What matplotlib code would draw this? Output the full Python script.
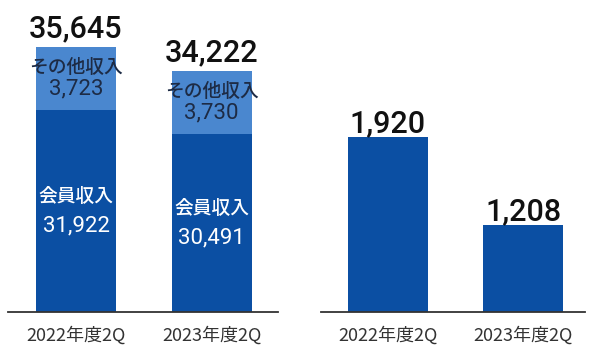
import matplotlib.pyplot as plt

plt.rcParams['font.family'] = ['Noto Sans CJK JP', 'DejaVu Sans']

periods = ["2022年度2Q", "2023年度2Q"]
member_income = [31922, 30491]
other_income = [3723, 3730]
revenue_total = [35645, 34222]
right_values = [1920, 1208]

dark = '#0b4fa3'
light = '#4a87cf'
navy = '#1d2b45'
num_font = ['Roboto', 'Liberation Sans', 'Noto Sans CJK JP']

fig = plt.figure(figsize=(5.89, 3.47), dpi=100)
ax1 = fig.add_axes([8 / 589, 35 / 347, 270 / 589, 312 / 347])
ax2 = fig.add_axes([321 / 589, 35 / 347, 264 / 589, 312 / 347])

x = [0, 1]
w = 0.59

# left: stacked revenue bars
ax1.bar(x, member_income, width=w, color=dark, zorder=2)
ax1.bar(x, other_income, width=w, bottom=member_income, color=light, zorder=2)
ax1.set_xlim(-0.502, 1.49)
ax1.set_ylim(19950, 38450)

for i in x:
    top = member_income[i] + other_income[i]
    ax1.annotate(f"{revenue_total[i]:,}", (i, top), xytext=(0, 13.5),
                 textcoords='offset points', ha='center', va='center',
                 fontsize=22, fontweight=500, family=num_font, color='#111111')
    mid_other = member_income[i] + other_income[i] / 2
    ax1.annotate("その他収入", (i, mid_other), xytext=(0, 8),
                 textcoords='offset points', ha='center', va='center',
                 fontsize=13.5, fontweight='medium', color=navy)
    ax1.annotate(f"{other_income[i]:,}", (i, mid_other), xytext=(0, -7.5),
                 textcoords='offset points', ha='center', va='center',
                 fontsize=16, family=num_font, color=navy)
    mid_member = 19950 + (member_income[i] - 19950) / 2
    ax1.annotate("会員収入", (i, mid_member), xytext=(0, 10.5),
                 textcoords='offset points', ha='center', va='center',
                 fontsize=13.5, fontweight='medium', color='white')
    ax1.annotate(f"{member_income[i]:,}", (i, mid_member), xytext=(0, -10.5),
                 textcoords='offset points', ha='center', va='center',
                 fontsize=16, family=num_font, color='white')

# right: single bars
ax2.bar(x, right_values, width=w, color=dark, zorder=2)
ax2.set_xlim(-0.494, 1.454)
ax2.set_ylim(508, 3032)
for i in x:
    ax2.annotate(f"{right_values[i]:,}", (i, right_values[i]), xytext=(0, 10),
                 textcoords='offset points', ha='center', va='center',
                 fontsize=22, fontweight=500, family=num_font, color='#111111')

for ax in (ax1, ax2):
    for s in ('left', 'right', 'top'):
        ax.spines[s].set_visible(False)
    ax.spines['bottom'].set_color('#333333')
    ax.spines['bottom'].set_linewidth(1.3)
    ax.spines['bottom'].set_zorder(3)
    ax.set_xticks(x)
    ax.set_xticklabels(periods, fontsize=13, color='#333333')
    ax.tick_params(axis='x', length=0, pad=10)
    ax.set_yticks([])
    ax.patch.set_alpha(0)

fig.savefig('out.png', dpi=100)
